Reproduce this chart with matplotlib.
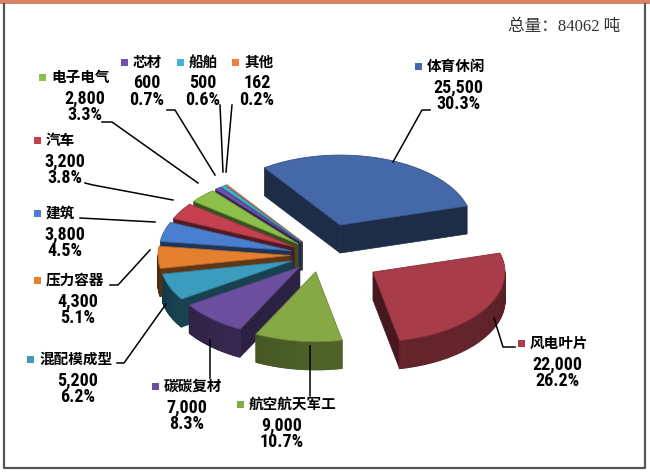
import numpy as np
import matplotlib
matplotlib.use('Agg')
import matplotlib.pyplot as plt
from matplotlib.patches import Polygon, Rectangle
from matplotlib.collections import PolyCollection
from matplotlib import colors as mcolors
from matplotlib import font_manager

# 数据
categories = ['体育休闲', '风电叶片', '航空航天军工', '碳碳复材', '混配模成型', '压力容器',
              '建筑', '汽车', '电子电气', '芯材', '船舶', '其他']
values = [25500, 22000, 9000, 7000, 5200, 4300, 3800, 3200, 2800, 600, 500, 162]
percents = ['30.3%', '26.2%', '10.7%', '8.3%', '6.2%', '5.1%',
            '4.5%', '3.8%', '3.3%', '0.7%', '0.6%', '0.2%']
total_label = '总量：84062 吨'

# 样式
slice_colors = ['#4468a8', '#a83c48', '#86a845', '#6c4f9e', '#3b9cbe', '#e4802f',
                '#4a7fd0', '#c4404e', '#8cc04a', '#7050b0', '#45b0d0', '#f08040']
explode = [60, 62, 32, 30, 30, 30, 30, 30, 30, 30, 30, 30]
cx, cy = 320, 255       # 饼图中心(像素)
R = 132                 # 半径
k = 0.53                # 倾斜压缩
h = 28                  # 厚度
start = 125.0           # 起始角度, 顺时针

# 标签位置: (方块x, 名称y, 数值中心x)
label_pos = [(418, 66, 458), (521, 343, 557), (240, 404, 282), (155, 386, 187),
             (30, 359, 78), (37, 280, 78), (37, 213, 65), (37, 140, 65),
             (42, 77, 85), (124, 62, 147), (180, 62, 203), (235, 62, 257)]
leaders = [[(393, 162), (422, 110), (430, 110)],
           [(494, 318), (503, 347), (515, 347)],
           [(310, 346), (310, 396)],
           [(210, 340), (210, 378)],
           [(166, 304), (124, 363), (117, 363)],
           [(150, 250), (118, 285), (110, 285)],
           [(155, 222), (80, 218)],
           [(173, 200), (93, 185), (85, 183)],
           [(198, 183), (112, 122), (102, 122)],
           [(215, 175), (175, 110), (167, 110)],
           [(223, 172), (220, 105)],
           [(226, 172), (232, 105)]]

# 数字字体: 有窄体就用窄体
installed = {f.name for f in font_manager.fontManager.ttflist}
num_font = 'Liberation Sans'
num_size = 11.5
for cand in ['Liberation Sans Narrow', 'Arial Narrow', 'Roboto Condensed', 'Open Sans Condensed']:
    if cand in installed:
        num_font = cand
        num_size = 13
        break


def shade(c, f):
    r, g, b = mcolors.to_rgb(c)
    return (r * f, g * f, b * f)


def proj(x0, y0, a, r):
    return (x0 + r * np.cos(np.radians(a)), y0 - r * k * np.sin(np.radians(a)))


fig = plt.figure(figsize=(6.5, 4.74), dpi=100)
ax = fig.add_axes([0, 0, 1, 1])
ax.set_xlim(0, 650)
ax.set_ylim(474, 0)
ax.axis('off')

# 边框
ax.add_patch(Rectangle((0, 0), 650, 4, color='#d9826a', lw=0))
ax.plot([4, 4, 645, 645], [4, 468, 468, 4], color='#555555', lw=1.6)

# 计算每个扇区
fracs = np.array(values) / sum(values)
angles = []
a = start
for f in fracs:
    angles.append((a - f * 360, a))
    a -= f * 360

slices = []
for i, (a1, a2) in enumerate(angles):
    mid = (a1 + a2) / 2
    x0, y0 = proj(cx, cy, mid, explode[i])
    slices.append((np.sin(np.radians(mid)), i, a1, a2, x0, y0))
slices.sort(key=lambda s: -s[0])

for _, i, a1, a2, x0, y0 in slices:
    col = slice_colors[i]
    arc = np.linspace(a1, a2, 80)
    # 侧面(径向)
    for ang, vis in ((a2, np.cos(np.radians(a2)) < 0), (a1, np.cos(np.radians(a1)) > 0)):
        if vis:
            px, py = proj(x0, y0, ang, R)
            ax.add_patch(Polygon([(x0, y0), (px, py), (px, py + h), (x0, y0 + h)],
                                 closed=True, fc=shade(col, 0.42), ec=shade(col, 0.42), lw=0.5))
    # 外侧弧面
    quads, cols = [], []
    for j in range(len(arc) - 1):
        m = (arc[j] + arc[j + 1]) / 2
        if np.sin(np.radians(m)) < 0:
            p1 = proj(x0, y0, arc[j], R)
            p2 = proj(x0, y0, arc[j + 1], R)
            f = 0.42 + 0.18 * np.cos(np.radians(m + 60))
            quads.append([p1, p2, (p2[0], p2[1] + h), (p1[0], p1[1] + h)])
            cols.append(shade(col, f))
    if quads:
        ax.add_collection(PolyCollection(quads, facecolors=cols, edgecolors=cols, linewidths=0.8))
    # 顶面
    pts = [(x0, y0)] + [proj(x0, y0, t, R) for t in arc]
    ax.add_patch(Polygon(pts, closed=True, fc=col, ec=shade(col, 0.8), lw=0.6))

# 引线
for pts in leaders:
    xs, ys = zip(*pts)
    ax.plot(xs, ys, color='black', lw=1.1)

# 标签
for i, name in enumerate(categories):
    sx, ny, vx = label_pos[i]
    ax.add_patch(Rectangle((sx - 3, ny - 3), 6.5, 6.5, color=slice_colors[i], lw=0))
    ax.text(sx + 9, ny, name, fontsize=10.5, fontweight='bold', ha='left', va='center',
            family=['Noto Sans CJK SC', 'DejaVu Sans'])
    ax.text(vx, ny + 21, f'{values[i]:,}', fontsize=num_size, fontweight='bold',
            ha='center', va='center', family=[num_font, 'DejaVu Sans'])
    ax.text(vx, ny + 38, percents[i], fontsize=num_size, fontweight='bold',
            ha='center', va='center', family=[num_font, 'DejaVu Sans'])

ax.text(620, 27, total_label, fontsize=12, ha='right', va='center', color='#333333',
        family=['Liberation Serif', 'Noto Sans CJK SC', 'DejaVu Sans'])

fig.savefig('out.png', dpi=100)
